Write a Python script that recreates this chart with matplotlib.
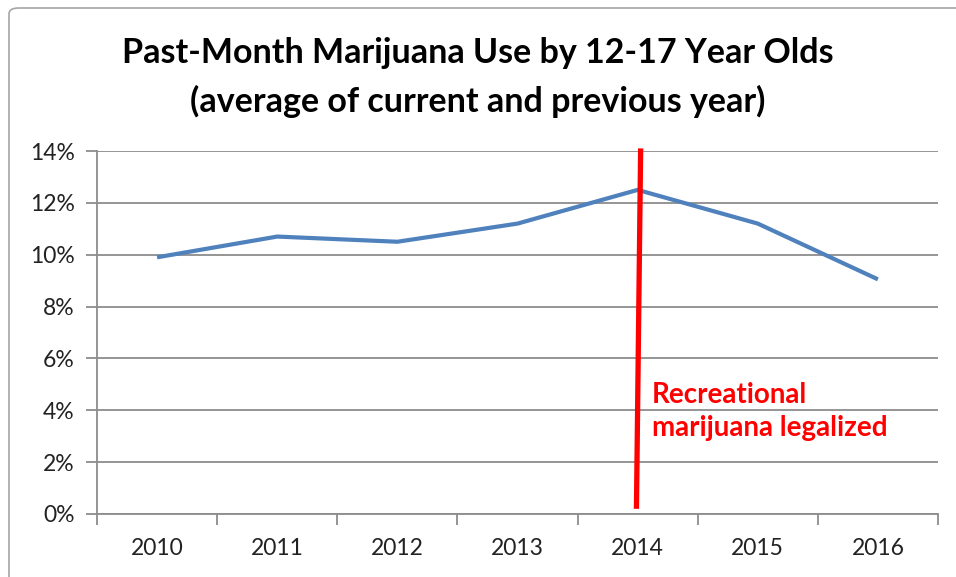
import matplotlib
matplotlib.use("Agg")
import matplotlib.pyplot as plt
from matplotlib.patches import FancyBboxPatch
from matplotlib.ticker import FuncFormatter

years = ["2010", "2011", "2012", "2013", "2014", "2015", "2016"]
use_pct = [9.9, 10.7, 10.5, 11.2, 12.5, 11.2, 9.05]
y_ticks = [0, 2, 4, 6, 8, 10, 12, 14]
legal_year = "2014"

W, H = 956, 577
fig = plt.figure(figsize=(W / 100, H / 100), dpi=100)
fig.patch.set_facecolor("white")

# outer chart frame (Excel style)
frame = FancyBboxPatch((9 / W, -0.05), 1.2, 1.05 - 8 / H,
                       boxstyle="round,pad=0,rounding_size=0.01",
                       transform=fig.transFigure, facecolor="none",
                       edgecolor="#a6a6a6", linewidth=1.2, zorder=0)
fig.patches.append(frame)

ax = fig.add_axes([97 / W, 1 - 514 / H, (938 - 97) / W, (514 - 151) / H])
ax.set_facecolor("none")

xs = list(range(len(years)))
ax.plot(xs, use_pct, color="#4f81bd", linewidth=3.0, solid_capstyle="butt", zorder=3)

xi = years.index(legal_year)
ax.plot([xi + 0.025, xi - 0.01], [14.1, 0.2], color="#ff0000", linewidth=3.8,
        solid_capstyle="butt", zorder=4, clip_on=False)
ax.text(xi + 0.12, 5.1, "Recreational\nmarijuana legalized", color="#ff0000",
        fontsize=20, fontweight="bold", family="Lato", va="top", ha="left",
        linespacing=1.35, zorder=5)

ax.set_xlim(-0.5, len(years) - 0.5)
ax.set_ylim(0, 14)
ax.set_yticks(y_ticks)
ax.yaxis.set_major_formatter(FuncFormatter(lambda v, p: f"{v:.0f}%"))
ax.set_xticks(xs)
ax.set_xticklabels(years)
ax.set_xticks([i - 0.5 for i in range(len(years) + 1)], minor=True)

grid_c = "#8c8c8c"
ax.grid(axis="y", color=grid_c, linewidth=1.3, zorder=1)
for s in ["top", "right"]:
    ax.spines[s].set_visible(False)
for s in ["left", "bottom"]:
    ax.spines[s].set_color(grid_c)
    ax.spines[s].set_linewidth(1.3)

ax.tick_params(axis="y", length=8, width=1.3, color=grid_c, pad=8,
               labelsize=16.5, labelcolor="#222222")
ax.tick_params(axis="x", which="major", length=0, pad=17,
               labelsize=16.5, labelcolor="#222222")
ax.tick_params(axis="x", which="minor", length=8, width=1.3, color=grid_c)
for lab in ax.get_xticklabels() + ax.get_yticklabels():
    lab.set_family("Lato")

fig.text(0.5, 1 - 53 / H, "Past-Month Marijuana Use by 12-17 Year Olds",
         ha="center", va="center", fontsize=24.5, fontweight="bold",
         family="Lato", color="#000000")
fig.text(0.5, 1 - 101 / H, "(average of current and previous year)",
         ha="center", va="center", fontsize=24.5, fontweight="bold",
         family="Lato", color="#000000")

fig.savefig("out.png", dpi=100, facecolor="white")
